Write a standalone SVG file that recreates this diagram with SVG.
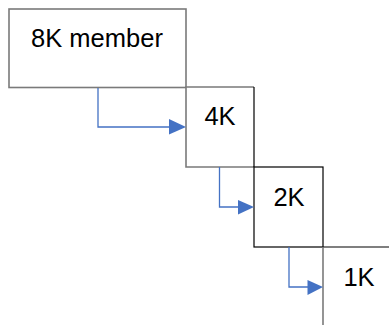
<svg xmlns="http://www.w3.org/2000/svg" width="389" height="325" viewBox="0 0 389 325">
<style>
.lbl{font-family:"Liberation Sans",Arial,sans-serif;font-size:25.5px;fill:#000;text-anchor:middle}
.g{fill:#fff;stroke:#7a7a7a;stroke-width:1.6}
.k{fill:none;stroke:#000;stroke-width:1.2}
.c{fill:none;stroke:#4472C4;stroke-width:1.3}
.ah{fill:#4472C4}
</style>
<rect width="389" height="325" fill="#fff"/>
<g id="n8k">
<rect class="g" x="9" y="9" width="177" height="78.5"/>
<text class="lbl" x="97" y="47">8K member</text>
</g>
<g id="n4k">
<path class="g" d="M254,87 H186 V167 H254"/>
<line class="k" x1="254" y1="87" x2="254" y2="167"/>
<text class="lbl" x="220" y="125">4K</text>
</g>
<g id="n2k">
<rect class="k" x="254" y="167" width="69" height="80"/>
<text class="lbl" x="289" y="206">2K</text>
</g>
<g id="n1k">
<line class="k" x1="323" y1="247" x2="389" y2="247"/>
<line class="g" x1="323" y1="247" x2="323" y2="325"/>
<text class="lbl" x="359" y="286">1K</text>
</g>
<g id="connectors">
<path class="c" d="M98,88 V127 H170"/>
<polygon class="ah" points="169,119 186,127 169,134.5"/>
<path class="c" d="M219.5,167 V207 H239"/>
<polygon class="ah" points="238,200 254,207 238,214.5"/>
<path class="c" d="M289,247 V287 H308"/>
<polygon class="ah" points="307.5,280 323,287 307.5,295"/>
</g>
</svg>
